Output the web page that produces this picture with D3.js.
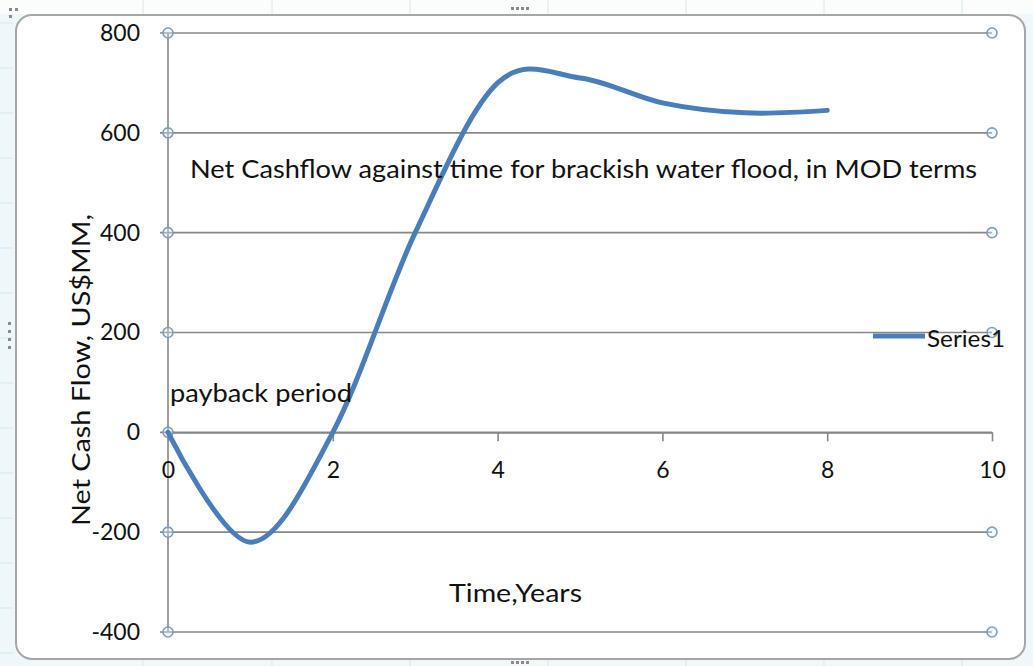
<!DOCTYPE html>
<html>
<head>
<meta charset="utf-8">
<script src="https://cdn.jsdelivr.net/npm/d3@7"></script>
<style>
  html, body { margin: 0; padding: 0; background: #eef8fa; }
  svg { display: block; }
  text { font-family: Lato, "Open Sans", sans-serif; fill: #111; }
</style>
</head>
<body>
<svg id="chart" width="1033" height="666"></svg>
<script>
// Net cash flow, US$MM, by year
const years = [0, 1, 2, 3, 4, 5, 6, 7, 8];
const cashflow = [0, -220, 0, 400, 700, 710, 660, 640, 645];
const xTicks = [0, 2, 4, 6, 8, 10];
const yTicks = [-400, -200, 0, 200, 400, 600, 800];
const seriesName = "Series1";

const svg = d3.select("#chart");
const W = 1033, H = 666;

// spreadsheet backdrop: faint cell lines on the margins
const back = svg.append("g");
back.append("rect").attr("width", W).attr("height", H).attr("fill", "#eef8fa");
back.append("rect").attr("x", 0).attr("y", 0).attr("width", W).attr("height", 14).attr("fill", "#fbfdfd");
[143, 272, 410, 548, 686, 824, 962].forEach(x => {
  back.append("line").attr("x1", x).attr("x2", x).attr("y1", 0).attr("y2", 14).attr("stroke", "#d7e6ea");
  back.append("line").attr("x1", x).attr("x2", x).attr("y1", 660).attr("y2", H).attr("stroke", "#d7e6ea");
});
d3.range(23, 666, 45).forEach(y => {
  back.append("line").attr("x1", 0).attr("x2", 13).attr("y1", y).attr("y2", y).attr("stroke", "#d7e6ea");
});

// chart area
svg.append("rect")
  .attr("x", 16).attr("y", 15).attr("width", 1009).attr("height", 644)
  .attr("rx", 16).attr("ry", 16)
  .attr("fill", "#ffffff").attr("stroke", "#a6a6a6").attr("stroke-width", 2);

// selection grips
const grip = (x, y, vertical) => {
  for (let i = 0; i < 4; i++) {
    svg.append("rect")
      .attr("x", vertical ? x : x + i * 5).attr("y", vertical ? y + i * 8 : y)
      .attr("width", 3).attr("height", 3).attr("fill", "#8a8a8a");
  }
};
grip(511, 7, false);
grip(511, 661, false);
grip(8, 322, true);
svg.append("rect").attr("x", 9).attr("y", 8).attr("width", 3).attr("height", 3).attr("fill", "#8a8a8a");
svg.append("rect").attr("x", 15).attr("y", 8).attr("width", 3).attr("height", 3).attr("fill", "#8a8a8a");
svg.append("rect").attr("x", 9).attr("y", 15).attr("width", 3).attr("height", 3).attr("fill", "#8a8a8a");

// scales
const x = d3.scaleLinear().domain([0, 10]).range([168, 992]);
const y = d3.scaleLinear().domain([-400, 800]).range([632, 33]);

// horizontal gridlines
svg.append("g").selectAll("line").data(yTicks).join("line")
  .attr("x1", x(0) - 8).attr("x2", x(10))
  .attr("y1", d => y(d)).attr("y2", d => y(d))
  .attr("stroke", "#878787").attr("stroke-width", 1.6);

// vertical axis line
svg.append("line")
  .attr("x1", x(0)).attr("x2", x(0)).attr("y1", y(800)).attr("y2", y(-400))
  .attr("stroke", "#878787").attr("stroke-width", 1.6);

// plain hyphen-minus for negative labels
const plain = d => String(d);

// x axis along zero, ticks pointing down
const xAxis = d3.axisBottom(x).tickValues(xTicks).tickFormat(plain)
  .tickSize(9).tickPadding(20).tickSizeOuter(0);
const gx = svg.append("g").attr("transform", `translate(0,${y(0)})`).call(xAxis);
gx.select(".domain").attr("stroke", "#878787").attr("stroke-width", 1.6);
gx.selectAll(".tick line").attr("stroke", "#878787").attr("stroke-width", 1.6);
gx.selectAll(".tick text").attr("font-size", 23).attr("fill", "#111")
  .attr("font-family", "Lato, sans-serif");

// y axis labels
const yAxis = d3.axisLeft(y).tickValues(yTicks).tickFormat(plain).tickSize(0).tickPadding(28);
const gy = svg.append("g").attr("transform", `translate(${x(0)},0)`).call(yAxis);
gy.select(".domain").remove();
gy.selectAll(".tick text").attr("font-size", 23).attr("fill", "#111")
  .attr("font-family", "Lato, sans-serif");

// selection handles on gridline ends
const handles = [];
yTicks.forEach(v => {
  handles.push([x(0), y(v)]);
  if (v !== 0) handles.push([x(10), y(v)]);
});
svg.append("g").selectAll("circle").data(handles).join("circle")
  .attr("cx", d => d[0]).attr("cy", d => d[1]).attr("r", 5)
  .attr("fill", "rgba(235,243,250,0.35)").attr("stroke", "#7c9fc0").attr("stroke-width", 1.6);

// the cash flow curve
const line = d3.line()
  .x((d, i) => x(years[i]))
  .y(d => y(d))
  .curve(d3.curveCatmullRom.alpha(0));
svg.append("path")
  .datum(cashflow)
  .attr("d", line)
  .attr("fill", "none")
  .attr("stroke", "#4a7ebb")
  .attr("stroke-width", 5)
  .attr("stroke-linecap", "round")
  .attr("stroke-linejoin", "round");

// text annotations
const label = (txt, tx, ty, size, len, extra) => {
  const t = svg.append("text").attr("x", tx).attr("y", ty)
    .attr("font-size", size).text(txt);
  if (len) t.attr("textLength", len).attr("lengthAdjust", "spacingAndGlyphs");
  if (extra) extra(t);
  return t;
};
label("Net Cashflow against time for brackish water flood, in MOD terms", 190, 178, 25, 787);
label("payback period", 170, 402, 25, 182);
label("Time,Years", 449, 602, 25, 133);
label("Net Cash Flow, US$MM,", 0, 0, 25, 312, t =>
  t.attr("transform", "translate(90,526) rotate(-90)"));

// legend
svg.append("line")
  .attr("x1", 873).attr("x2", 925).attr("y1", 336).attr("y2", 336)
  .attr("stroke", "#4a7ebb").attr("stroke-width", 5);
label(seriesName, 927, 347, 23, 78);
</script>
</body>
</html>
